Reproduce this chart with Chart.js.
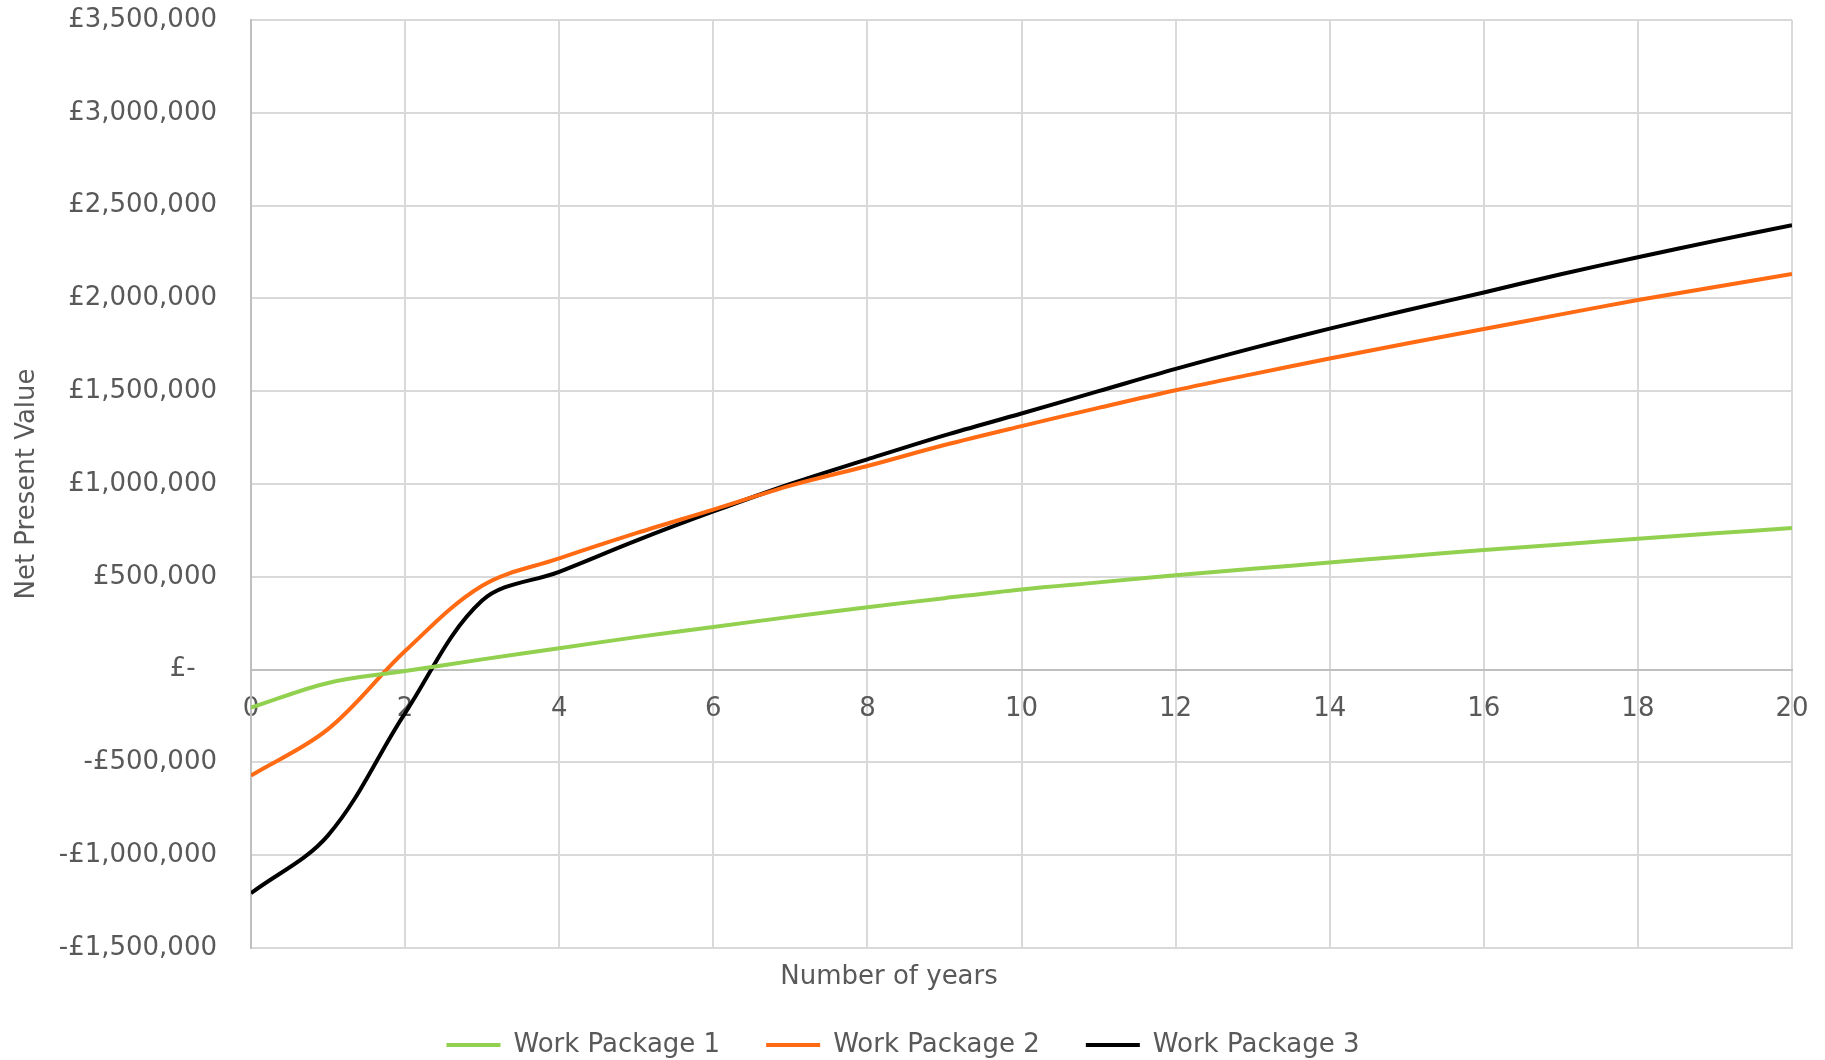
<!DOCTYPE html>
<html>
<head>
<meta charset="utf-8">
<script src="https://cdn.jsdelivr.net/npm/chart.js@4/dist/chart.umd.min.js"></script>
<style>
  html, body { margin: 0; padding: 0; background: #ffffff; }
  #wrap { width: 1825px; height: 1060px; position: relative; }
</style>
</head>
<body>
<div id="wrap"><canvas id="npv"></canvas></div>
<script>
// Net present value of each work package over a 20-year horizon
const years = [0, 1, 2, 3, 4, 5, 6, 7, 8, 9, 10, 11, 12, 13, 14, 15, 16, 17, 18, 19, 20];
const workPackage1 = [-205000, -72000, -8000, 55000, 115000, 175000, 230000, 284000, 336000, 385000,
  432000, 470000, 508000, 543000, 577000, 611000, 644000, 674000, 705000, 734000, 763000];
const workPackage2 = [-571000, -321000, 100000, 452000, 599000, 735000, 862000, 991000, 1097000, 1210000,
  1312000, 1410000, 1505000, 1592000, 1676000, 1757000, 1835000, 1914000, 1991000, 2061000, 2131000];
const workPackage3 = [-1205000, -893000, -234000, 372000, 527000, 695000, 852000, 1000000, 1133000, 1262000,
  1380000, 1500000, 1620000, 1732000, 1837000, 1936000, 2032000, 2130000, 2222000, 2310000, 2394000];
const seriesNames = ['Work Package 1', 'Work Package 2', 'Work Package 3'];
const seriesColours = ['#92d050', '#ff6a13', '#000000'];
const xTitle = 'Number of years';
const yTitle = 'Net Present Value';

const FONT = '"DejaVu Sans", Verdana, sans-serif';
const TEXT = '#595959';
const GRID = '#d9d9d9';
const AXIS = '#bfbfbf';
const CLEAR = 'rgba(0,0,0,0)';

function pounds(v) {
  if (v === 0) return '£- \u2002';
  const s = '£' + Math.abs(v).toLocaleString('en-GB');
  return v < 0 ? '-' + s : s;
}

const toPoints = arr => arr.map((v, i) => ({ x: years[i], y: v }));

// horizontal axis caption, set below the plot
const xAxisTitle = {
  id: 'xAxisTitle',
  afterDraw(chart) {
    const { ctx, chartArea } = chart;
    ctx.save();
    ctx.font = '26px ' + FONT;
    ctx.fillStyle = TEXT;
    ctx.textAlign = 'center';
    ctx.textBaseline = 'middle';
    ctx.fillText(xTitle, chartArea.left + 638, chartArea.bottom + 29);
    ctx.restore();
  }
};

const datasets = [workPackage1, workPackage2, workPackage3].map((arr, i) => ({
  label: seriesNames[i],
  data: toPoints(arr),
  borderColor: seriesColours[i],
  backgroundColor: seriesColours[i],
  borderWidth: 4,
  pointRadius: 0,
  tension: 0.35,
  xAxisID: 'x',
  yAxisID: 'y'
}));

new Chart(document.getElementById('npv'), {
  type: 'line',
  data: { datasets },
  plugins: [xAxisTitle],
  options: {
    responsive: true,
    maintainAspectRatio: false,
    animation: false,
    layout: { padding: { top: 20, right: 33, left: 14, bottom: -8 } },
    plugins: {
      tooltip: { enabled: false },
      legend: {
        position: 'bottom',
        labels: {
          usePointStyle: true,
          pointStyle: 'line',
          pointStyleWidth: 54,
          padding: 46,
          color: TEXT,
          font: { family: FONT, size: 26 }
        }
      }
    },
    scales: {
      x: {
        type: 'linear',
        position: 'bottom',
        min: 0, max: 20,
        ticks: { display: false, stepSize: 2 },
        grid: {
          color: ctx => (ctx.tick && ctx.tick.value === 0 ? AXIS : GRID),
          lineWidth: 2,
          drawTicks: false
        },
        border: { display: true, color: GRID, width: 2 },
        afterFit(scale) { scale.height = 38; }
      },
      x0: {
        type: 'linear',
        position: { y: 0 },
        min: 0, max: 20,
        ticks: {
          stepSize: 2,
          autoSkip: false,
          maxRotation: 0,
          padding: 24,
          color: TEXT,
          font: { family: FONT, size: 26 }
        },
        grid: { display: false, drawTicks: false },
        border: { display: true, color: AXIS, width: 2 },
        // the end labels only need half their width beside the plot
        afterFit(scale) { scale.paddingLeft = 0; scale.paddingRight = 16; }
      },
      y: {
        type: 'linear',
        position: 'left',
        min: -1500000, max: 3500000,
        ticks: {
          stepSize: 500000,
          padding: 3,
          color: TEXT,
          font: { family: FONT, size: 26 },
          callback: v => pounds(v)
        },
        grid: {
          color: ctx => (ctx.tick && ctx.tick.value === 0 ? AXIS : GRID),
          lineWidth: 2,
          drawTicks: true,
          tickLength: 31,
          tickColor: CLEAR
        },
        border: { display: true, color: AXIS, width: 2 },
        title: {
          display: true,
          text: yTitle,
          color: TEXT,
          font: { family: FONT, size: 26 },
          padding: { top: -2, bottom: 0 }
        },
        afterFit(scale) { scale.width = 237; }
      }
    }
  }
});
</script>
</body>
</html>
